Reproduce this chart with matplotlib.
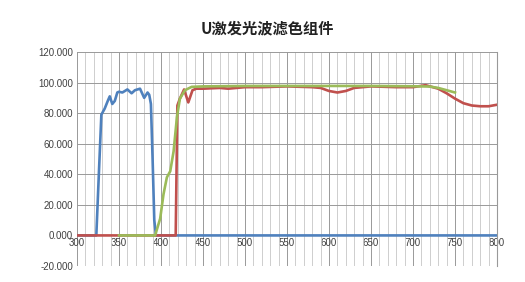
import matplotlib
matplotlib.use("Agg")
import matplotlib.pyplot as plt
import numpy as np

# wavelength / transmission
blue_x = [300, 323, 326, 329, 333, 337, 339, 342, 345, 348, 350, 354, 360, 365, 369, 375,
          380, 384, 386, 388, 390, 392, 394, 800]
blue_y = [0, 0, 40, 79, 83, 88.5, 91, 86, 88, 93.5, 94, 93.5, 95.5, 93, 95, 96,
          90, 93.5, 92, 86, 50, 10, 0, 0]

red_x = [300, 417.5, 419.5, 422.5, 427.5, 432.5, 437.5, 442, 450, 470, 480, 500, 520, 550,
         580, 590, 600, 610, 620, 630, 650, 680, 700, 715, 730, 740, 750, 760, 770, 780,
         790, 800]
red_y = [0, 0, 85, 89.5, 95.5, 87, 95, 96, 96, 96.5, 96, 97, 97, 97.5,
         97, 96.5, 94.5, 93.5, 94.5, 96.5, 97.5, 97, 97, 98.3, 96, 93, 89.5, 86.5, 85, 84.5,
         84.5, 85.5]

green_x = [350, 393, 399, 403, 407, 411, 415, 419, 422.5, 428.5, 436.5, 450, 500, 600, 650,
           700, 720, 730, 740, 750]
green_y = [0, 0, 11, 27, 38, 42, 55, 77.5, 89.5, 95, 97.2, 97.5, 97.8, 97.8, 97.8,
           97.6, 97.4, 96.5, 95, 93.5]

x_ticks = np.arange(300, 801, 50)
y_ticks = np.arange(-20, 121, 20)

plt.rcParams['font.family'] = ['Liberation Sans', 'Noto Sans CJK SC']

fig = plt.figure(figsize=(5.25, 2.82), dpi=100)
ax = fig.add_axes([77 / 525, 1 - 266 / 282, 420 / 525, 214 / 282])

ax.plot(blue_x, blue_y, color='#4F81BD', lw=1.9, solid_joinstyle='round', zorder=3)
ax.plot(red_x, red_y, color='#C0504D', lw=1.9, solid_joinstyle='round', zorder=4)
ax.plot(green_x, green_y, color='#9BBB59', lw=1.9, solid_joinstyle='round', zorder=5)

ax.set_xlim(300, 800)
ax.set_ylim(-20, 120)
ax.set_xticks(x_ticks)
ax.set_xticks(np.arange(300, 801, 10), minor=True)
ax.set_yticks(y_ticks)
ax.set_yticklabels(['%.3f' % v for v in y_ticks])
ax.grid(which='major', color='#999999', lw=0.7)
ax.grid(which='minor', axis='x', color='#c6c6c6', lw=0.6)
ax.set_axisbelow(True)

for s in ['top', 'left']:
    ax.spines[s].set_visible(False)
ax.spines['right'].set_color('#999999')
ax.spines['bottom'].set_position(('data', 0))
ax.spines['bottom'].set_visible(False)
ax.tick_params(which='both', length=0, labelsize=7, colors='#404040', pad=3)
ax.tick_params(axis='x', pad=2)

fig.text(267 / 525, 1 - 28 / 282, 'U激发光波滤色组件', ha='center', va='center',
         fontsize=11, fontweight='bold', family=['Noto Sans CJK SC'], color='#222222')

fig.savefig('out.png', dpi=100)
